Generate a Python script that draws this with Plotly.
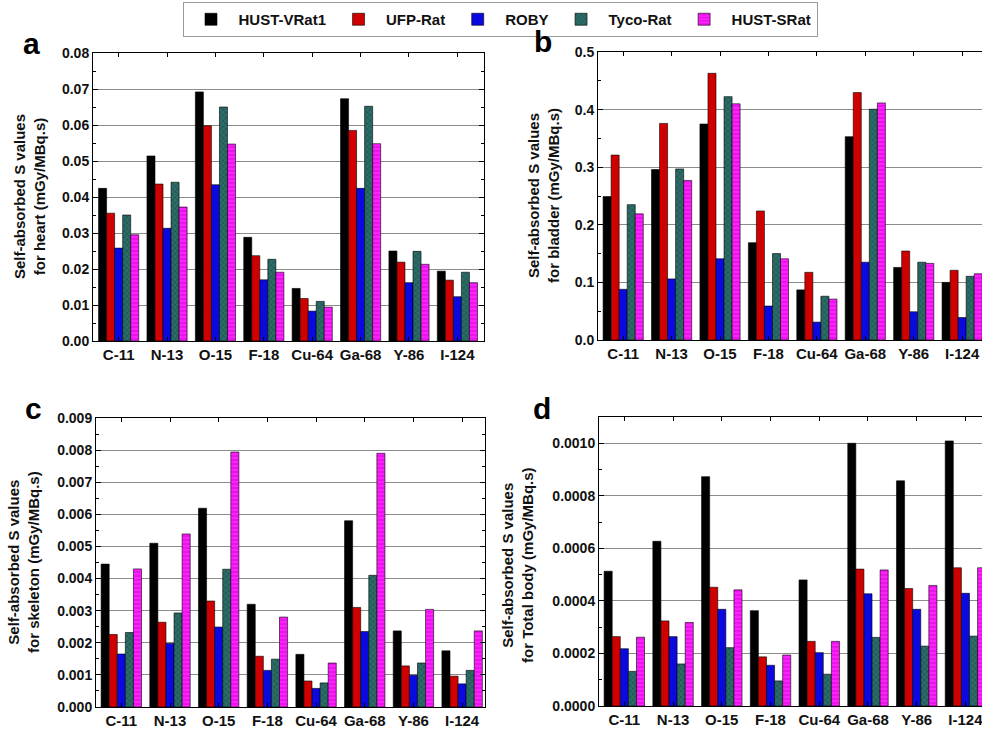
import plotly.graph_objects as go

categories = ["C-11", "N-13", "O-15", "F-18", "Cu-64", "Ga-68", "Y-86", "I-124"]
series_names = ["HUST-VRat1", "UFP-Rat", "ROBY", "Tyco-Rat", "HUST-SRat"]

# Panel a: heart
heart_vrat1 = [0.0424, 0.0514, 0.0692, 0.0288, 0.0146, 0.0673, 0.0250, 0.0194]
heart_ufp = [0.0355, 0.0436, 0.0598, 0.0237, 0.0118, 0.0585, 0.0219, 0.0169]
heart_roby = [0.0258, 0.0313, 0.0434, 0.0170, 0.0083, 0.0424, 0.0162, 0.0123]
heart_tyco = [0.0350, 0.0441, 0.0650, 0.0227, 0.0110, 0.0652, 0.0249, 0.0191]
heart_srat = [0.0295, 0.0372, 0.0547, 0.0191, 0.0094, 0.0548, 0.0213, 0.0162]

# Panel b: bladder
bladder_vrat1 = [0.249, 0.296, 0.375, 0.169, 0.087, 0.353, 0.126, 0.100]
bladder_ufp = [0.321, 0.376, 0.463, 0.224, 0.1175, 0.4295, 0.1545, 0.121]
bladder_roby = [0.088, 0.106, 0.141, 0.059, 0.031, 0.135, 0.049, 0.039]
bladder_tyco = [0.235, 0.297, 0.4225, 0.150, 0.076, 0.4006, 0.135, 0.1106]
bladder_srat = [0.219, 0.277, 0.410, 0.141, 0.071, 0.4116, 0.133, 0.115]

# Panel c: skeleton
skel_vrat1 = [0.00445, 0.0051, 0.00619, 0.0032, 0.00164, 0.0058, 0.00237, 0.00175]
skel_ufp = [0.00226, 0.00264, 0.0033, 0.00158, 0.00081, 0.0031, 0.00128, 0.00096]
skel_roby = [0.00165, 0.00198, 0.00249, 0.00114, 0.00058, 0.00235, 0.00099, 0.00072]
skel_tyco = [0.00232, 0.00293, 0.00429, 0.00149, 0.00075, 0.0041, 0.00137, 0.00114]
skel_srat = [0.0043, 0.00539, 0.00794, 0.0028, 0.00137, 0.0079, 0.00304, 0.00237]

# Panel d: total body
body_vrat1 = [0.000513, 0.000627, 0.000873, 0.000363, 0.00048, 0.001, 0.000857, 0.001009]
body_ufp = [0.000264, 0.000324, 0.000452, 0.000187, 0.000246, 0.000521, 0.000447, 0.000526]
body_roby = [0.000218, 0.000264, 0.000368, 0.000155, 0.000203, 0.000427, 0.000368, 0.000429]
body_tyco = [0.000132, 0.00016, 0.000222, 0.0000955, 0.000121, 0.000261, 0.000228, 0.000266]
body_srat = [0.000262, 0.000318, 0.000442, 0.000194, 0.000246, 0.000518, 0.000459, 0.000526]

panel_letters = ["a", "b", "c", "d"]
y_titles = [
    "Self-absorbed S values<br>for heart (mGy/MBq.s)",
    "Self-absorbed S values<br>for bladder (mGy/MBq.s)",
    "Self-absorbed S values<br>for skeleton (mGy/MBq.s)",
    "Self-absorbed S values<br>for Total body (mGy/MBq.s)",
]

panels = [
    [heart_vrat1, heart_ufp, heart_roby, heart_tyco, heart_srat],
    [bladder_vrat1, bladder_ufp, bladder_roby, bladder_tyco, bladder_srat],
    [skel_vrat1, skel_ufp, skel_roby, skel_tyco, skel_srat],
    [body_vrat1, body_ufp, body_roby, body_tyco, body_srat],
]

W, H = 982, 730
FONT = "Arial, Liberation Sans, sans-serif"

styles = [
    dict(color="#000000", pattern=None),
    dict(color="#d00000", pattern=None),
    dict(color="#0a0ae0", pattern=None),
    dict(color="#24625d", pattern=dict(shape="x", fgcolor="#0f3d3a", bgcolor="#2c6d68", size=4, solidity=0.35)),
    dict(color="#ff10ff", pattern=dict(shape="-", fgcolor="#b000b0", bgcolor="#ff20ff", size=4, solidity=0.3)),
]

# pixel boxes: left, right, top, bottom
boxes = [
    (93, 484, 53, 341),
    (598, 982, 52, 340),
    (96, 485, 418, 707),
    (599, 982, 417, 706),
]
x_ranges = [[-0.53, 7.55], [-0.52, 7.41], [-0.52, 7.47], [-0.52, 7.34]]
y_ranges = [[0, 0.08], [0, 0.5], [0, 0.009], [0, 0.0011]]
y_dticks = [0.01, 0.1, 0.001, 0.0002]
y_formats = [".2f", ".1f", ".3f", ".4f"]

fig = go.Figure()

for p, data in enumerate(panels):
    sfx = "" if p == 0 else str(p + 1)
    for s, vals in enumerate(data):
        st = styles[s]
        marker = dict(color=st["color"], line=dict(color="#000000", width=0.6))
        if st["pattern"] is not None:
            marker["pattern"] = st["pattern"]
        fig.add_trace(go.Bar(
            x=categories, y=vals, name=series_names[s],
            marker=marker, showlegend=(p == 0),
            xaxis="x" + sfx, yaxis="y" + sfx,
        ))

layout = dict(
    width=W, height=H,
    margin=dict(l=0, r=0, t=0, b=0, autoexpand=False),
    paper_bgcolor="white", plot_bgcolor="white",
    barmode="group", bargap=0.17, bargroupgap=0,
    font=dict(family=FONT, size=14, color="#111111"),
    showlegend=True,
    legend=dict(
        orientation="h", x=500 / W, xanchor="center", y=1 - 19.5 / H, yanchor="middle",
        bordercolor="#9a9a9a", borderwidth=1,
        font=dict(family=FONT, size=15, weight="bold", color="#111111"),
        itemwidth=45, tracegroupgap=0,
    ),
)

annotations = []
for p in range(4):
    sfx = "" if p == 0 else str(p + 1)
    l, r, t, b = boxes[p]
    layout["xaxis" + sfx] = dict(
        domain=[l / W, r / W], anchor="y" + sfx, automargin=False,
        type="category", categoryorder="array", categoryarray=categories,
        range=x_ranges[p],
        showline=True, linecolor="#000000", linewidth=1, mirror="allticks",
        ticks="inside", ticklen=4, tickcolor="#000000",
        showgrid=False, zeroline=False,
        tickfont=dict(family=FONT, size=15, weight="bold", color="#111111"),
    )
    mirror_y = "allticks" if p in (0, 2) else False
    layout["yaxis" + sfx] = dict(
        domain=[1 - b / H, 1 - t / H], anchor="x" + sfx, automargin=False,
        range=y_ranges[p], dtick=y_dticks[p], tick0=0, tickformat=y_formats[p],
        showline=True, linecolor="#000000", linewidth=1, mirror=mirror_y,
        ticks="inside", ticklen=5, tickcolor="#000000",
        minor=dict(ticks="inside", ticklen=3, dtick=y_dticks[p] / 2, tickcolor="#000000", showgrid=False),
        showgrid=True, gridcolor="#8c8c8c", gridwidth=1, zeroline=False,
        tickfont=dict(family=FONT, size=14, weight="bold", color="#111111"),
    )

letter_pos = [(32, 44), (543, 42), (33, 408), (542, 408)]
title_pos = [(29, 197), (543, 196), (23, 562), (517, 565)]
for p in range(4):
    lx, ly = letter_pos[p]
    annotations.append(dict(
        text=panel_letters[p], xref="paper", yref="paper",
        x=lx / W, y=1 - ly / H, xanchor="center", yanchor="middle",
        showarrow=False, font=dict(family=FONT, size=30, weight="bold", color="#000000"),
    ))
    tx, ty = title_pos[p]
    annotations.append(dict(
        text=y_titles[p], xref="paper", yref="paper",
        x=tx / W, y=1 - ty / H, xanchor="center", yanchor="middle",
        textangle=-90, showarrow=False,
        font=dict(family=FONT, size=15, weight="bold", color="#111111"),
    ))
layout["annotations"] = annotations

fig.update_layout(**layout)
fig.write_html(
    "out.html",
    config={"displayModeBar": False},
    post_script="document.body.style.margin='0';document.body.style.overflow='hidden';",
)
